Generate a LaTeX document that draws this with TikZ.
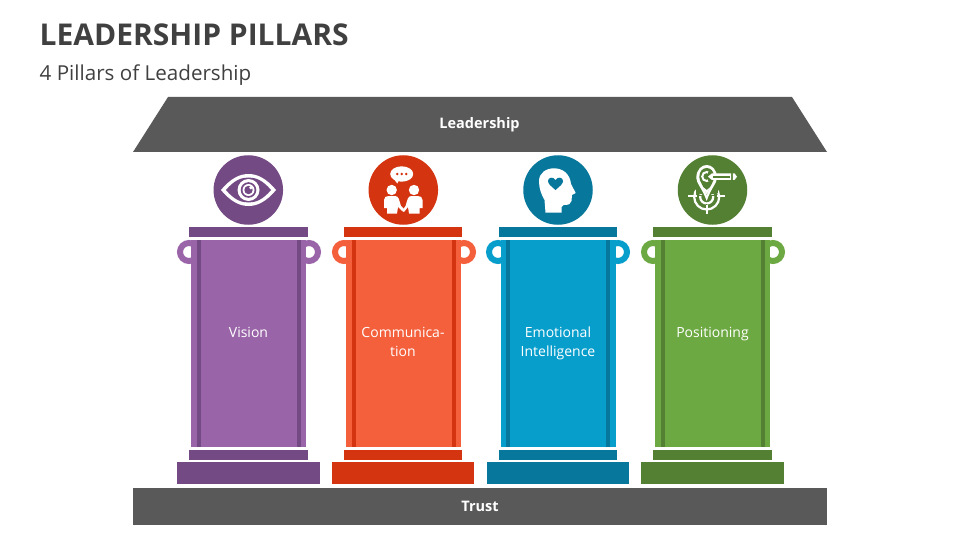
\documentclass[tikz,border=0pt]{standalone}
\usepackage{fontspec}
\setmainfont{Open Sans}
\usepackage{tikz}
\usetikzlibrary{shapes, arrows.meta}

\definecolor{slab}{HTML}{595959}
\definecolor{inktitle}{HTML}{404040}
\definecolor{purpledark}{HTML}{744A84}
\definecolor{purplelight}{HTML}{9A64A9}
\definecolor{reddark}{HTML}{D4340F}
\definecolor{redlight}{HTML}{F4603C}
\definecolor{bluedark}{HTML}{07789C}
\definecolor{bluelight}{HTML}{089ECC}
\definecolor{greendark}{HTML}{548034}
\definecolor{greenlight}{HTML}{6DA942}

\tikzset{
  bar/.style={rectangle, inner sep=0, outer sep=0, draw=none},
  capbar/.style={bar, minimum width=118.5pt, minimum height=10pt},
  shaft/.style={bar, minimum width=115pt, minimum height=207pt},
  pillartext/.style={anchor=base, inner sep=0, text=white, align=center, font=\fontsize{14}{19}\selectfont},
  stripe/.style={bar, minimum width=4pt, minimum height=207pt},
  plinth/.style={bar, minimum width=142.5pt, minimum height=22pt},
  ring/.style={circle, inner sep=0, outer sep=0, minimum size=18pt, line width=6pt, fill=white},
  badge/.style={circle, inner sep=0, outer sep=0, minimum size=69.5pt},
}

\begin{document}
\begin{tikzpicture}[x=1pt, y=-1pt]
            \useasboundingbox (0, 0) rectangle (960, 540);

            \node[anchor=base west, inner sep=0, text=inktitle, font=\fontsize{30}{36}\selectfont\bfseries] (title) at (39.5, 45.5) {LEADERSHIP PILLARS};
            \node[anchor=base west, inner sep=0, text=inktitle, font=\fontsize{20.6}{24}\selectfont] (subtitle) at (39.5, 80.5) {4 Pillars of Leadership};

            % roof and floor
            \fill[slab] (168, 97) -- (792, 97) -- (827, 152) -- (133, 152) -- cycle;
            \node[anchor=base, inner sep=0, text=white, font=\fontsize{14.5}{18}\selectfont\bfseries] (roof) at (479.5, 129) {Leadership};
            \node[bar, fill=slab, minimum width=694pt, minimum height=37pt, text=white, font=\fontsize{14.5}{18}\selectfont\bfseries] (floor) at (480, 506.5) {Trust};

            % vision
            \node[ring, draw=purplelight] (visionl) at (189, 252) {};
            \node[ring, draw=purplelight] (visionr) at (309, 252) {};
            \node[shaft, fill=purplelight] (vision) at (248.5, 343.5) {};
            \node[stripe, fill=purpledark] (visions1) at (199, 343.5) {};
            \node[stripe, fill=purpledark] (visions2) at (299, 343.5) {};
            \node[capbar, fill=purpledark] (visiontop) at (248.5, 232) {};
            \node[capbar, fill=purpledark] (visionlow) at (248.5, 455) {};
            \node[plinth, fill=purpledark] (visionbase) at (248.5, 473) {};
            \node[badge, fill=purpledark] (visionicon) at (248.3, 190) {};
            \node[pillartext] (visiontext) at (248.5, 337) {Vision};

            % communication
            \node[ring, draw=redlight] (commul) at (344, 252) {};
            \node[ring, draw=redlight] (commur) at (464, 252) {};
            \node[shaft, fill=redlight] (commu) at (403, 343.5) {};
            \node[stripe, fill=reddark] (commus1) at (353.5, 343.5) {};
            \node[stripe, fill=reddark] (commus2) at (454, 343.5) {};
            \node[capbar, fill=reddark] (commutop) at (403, 232) {};
            \node[capbar, fill=reddark] (commulow) at (403, 455) {};
            \node[plinth, fill=reddark] (commubase) at (403, 473) {};
            \node[badge, fill=reddark] (commuicon) at (403.3, 190) {};
            \node[pillartext] (commutext) at (403, 356) {Communica-\\tion};

            % emotional intelligence
            \node[ring, draw=bluelight] (emotl) at (498, 252) {};
            \node[ring, draw=bluelight] (emotr) at (618, 252) {};
            \node[shaft, fill=bluelight] (emot) at (558, 343.5) {};
            \node[stripe, fill=bluedark] (emots1) at (508, 343.5) {};
            \node[stripe, fill=bluedark] (emots2) at (608, 343.5) {};
            \node[capbar, fill=bluedark] (emottop) at (558, 232) {};
            \node[capbar, fill=bluedark] (emotlow) at (558, 455) {};
            \node[plinth, fill=bluedark] (emotbase) at (558, 473) {};
            \node[badge, fill=bluedark] (emoticon) at (558, 190) {};
            \node[pillartext] (emottext) at (558, 356) {Emotional\\Intelligence};

            % positioning
            \node[ring, draw=greenlight] (posl) at (653, 252) {};
            \node[ring, draw=greenlight] (posr) at (773, 252) {};
            \node[shaft, fill=greenlight] (pos) at (712.5, 343.5) {};
            \node[stripe, fill=greendark] (poss1) at (663, 343.5) {};
            \node[stripe, fill=greendark] (poss2) at (763, 343.5) {};
            \node[capbar, fill=greendark] (postop) at (712.5, 232) {};
            \node[capbar, fill=greendark] (poslow) at (712.5, 455) {};
            \node[plinth, fill=greendark] (posbase) at (712.5, 473) {};
            \node[badge, fill=greendark] (posicon) at (712.5, 190) {};
            \node[pillartext] (postext) at (712.5, 337) {Positioning};

            % eye
            \fill[white] (221, 190) .. controls (231, 178) and (240, 174) .. (248.5, 174) .. controls (257, 174) and (266, 178) .. (276, 190) .. controls (266, 202) and (257, 206) .. (248.5, 206) .. controls (240, 206) and (231, 202) .. cycle;
            \fill[purpledark] (226, 190) .. controls (234, 180.5) and (241, 177.5) .. (248.5, 177.5) .. controls (256, 177.5) and (263, 180.5) .. (271, 190) .. controls (263, 199.5) and (256, 202.5) .. (248.5, 202.5) .. controls (241, 202.5) and (234, 199.5) .. cycle;
            \fill[white] (248.5, 190) circle (11);
            \fill[purpledark] (248.5, 190) circle (7.8);
            \fill[white] (248.5, 190) circle (6);
            \fill[purpledark] (248.5, 190) circle (4.2);
            \fill[white] (250.8, 187.8) circle (1.7);

            % speech bubble and two people
            \fill[white] (401.7, 174) ellipse (11.5 and 7.7);
            \fill[white] (393, 178) -- (399, 180) -- (397.3, 183.5) -- cycle;
            \fill[reddark] (397.2, 174) circle (1.4) (401.7, 174) circle (1.4) (406.2, 174) circle (1.4);
            \fill[white] (391.7, 190) circle (5.2) (414, 190) circle (5.2);
            \fill[white] (384, 200) .. controls (384, 197) and (386, 196) .. (389, 196) -- (395, 196) .. controls (399, 196) and (399, 200) .. (401, 206) -- (404, 209) -- (402, 211) -- (398, 207) -- (397, 213.5) -- (387, 213.5) -- (387, 208) -- (384, 208) -- cycle;
            \fill[white] (422.5, 200) .. controls (422.5, 197) and (420.5, 196) .. (417.5, 196) -- (411.5, 196) .. controls (407.5, 196) and (407.5, 200) .. (405.5, 206) -- (402, 211) -- (404, 212) -- (408, 207) -- (409, 213.5) -- (419.5, 213.5) -- (419.5, 208) -- (422.5, 208) -- cycle;

            % head with heart
            \fill[white] (545.5, 212.7) -- (544.5, 200) .. controls (541, 194) and (539, 188) .. (539, 181) .. controls (539, 173) and (546, 168.3) .. (554, 168.3) .. controls (563, 168.3) and (570, 174) .. (571, 184) -- (575.7, 193) -- (572, 195) -- (571.5, 201) .. controls (571, 204) and (569, 205) .. (563.5, 205) -- (561.5, 207) -- (561.5, 212.7) -- cycle;
            \fill[bluedark] (555.5, 190) .. controls (551, 186) and (548, 184) .. (548, 181) .. controls (548, 177) and (553.5, 176.5) .. (555.5, 180) .. controls (557.5, 176.5) and (563, 177) .. (563, 181) .. controls (563, 184) and (560, 186) .. (555.5, 190) -- cycle;

            % target, pin and pencil
            \draw[white, line width=2.2pt] (706.7, 197) circle (12.5);
            \draw[white, line width=2.2pt] (706.7, 197) circle (6.5);
            \fill[greendark] (696, 178) rectangle (718, 193);
            \fill[greendark] (690, 184) -- (700, 176) -- (714, 176) -- (724, 184) -- (714, 194) -- (700, 194) -- cycle;
            \draw[greendark, line width=1.5pt] (688, 195.7) -- (725, 195.7) (706.7, 204) -- (706.7, 213.5);
            \draw[white, line width=2pt] (688, 195.7) -- (696.5, 195.7) (717, 195.7) -- (725, 195.7) (706.7, 205) -- (706.7, 213.5);
            \fill[white] (696.3, 178) .. controls (696.3, 169) and (702, 165) .. (706.7, 165) .. controls (711.5, 165) and (717, 169) .. (717, 178) .. controls (717, 183) and (711, 188) .. (706.7, 201) .. controls (702, 188) and (696.3, 183) .. (696.3, 178) -- cycle;
            \fill[greendark] (699.3, 177) .. controls (699.3, 171) and (703, 168) .. (706.7, 168) .. controls (710.5, 168) and (714, 171) .. (714, 177) .. controls (714, 182) and (709.5, 186) .. (706.7, 195) .. controls (704, 186) and (699.3, 182) .. (699.3, 177) -- cycle;
            \draw[white, line width=2pt] (706.7, 176.5) circle (4.5);
            \fill[white] (703, 187) -- (706.7, 190) -- (710.5, 187) -- (706.7, 194.5) -- cycle;
            \fill[greendark] (708, 172) rectangle (712, 181);
            \fill[white] (708, 176.7) -- (712, 173.3) -- (731, 173.3) -- (731, 180) -- (712, 180) -- cycle;
            \fill[greendark] (712.5, 175.7) rectangle (729.5, 177.6);
            \fill[white] (732.8, 173.3) -- (734.5, 173.3) -- (737, 176.7) -- (734.5, 180) -- (732.8, 180) -- cycle;
\end{tikzpicture}
\end{document}
